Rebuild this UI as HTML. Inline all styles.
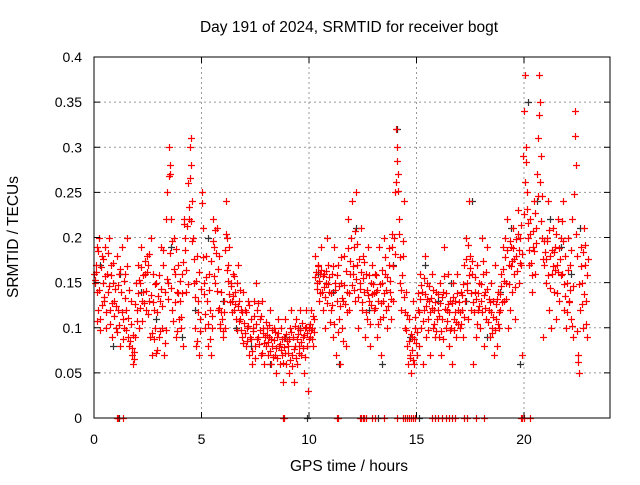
<!DOCTYPE html>
<html><head><meta charset="utf-8"><style>
body{margin:0;background:#fff}
svg text{font-family:"Liberation Sans",sans-serif;font-size:14px;fill:#000}
svg text.big{font-size:15.5px}
</style></head><body>
<svg id="chart" width="640" height="480" viewBox="0 0 640 480" xmlns="http://www.w3.org/2000/svg">
<rect width="640" height="480" fill="#fff"/>
<text class="big" x="349" y="32" text-anchor="middle">Day 191 of 2024, SRMTID for receiver bogt</text>
<text class="big" x="349" y="471" text-anchor="middle">GPS time / hours</text>
<text class="big" x="0" y="0" text-anchor="middle" transform="translate(18,237) rotate(-90)">SRMTID / TECUs</text>
<g id="grid"></g><g id="marks"></g><g id="axes"></g>
</svg>
<script>
const xTicks=[0,5,10,15,20];
const yTicks=[0,0.05,0.1,0.15,0.2,0.25,0.3,0.35,0.4];
const yTickLabels=["0","0.05","0.1","0.15","0.2","0.25","0.3","0.35","0.4"];
const blackPoints=[[0.3,.17],[0.9,.08],[1.2,.16],[2.2,.14],[2.9,.11],[3.6,.19],[4.1,.09],[4.7,.12],[5.3,.2],[6.0,.13],[6.6,.1],[7.3,.08],[8.2,.06],[8.9,.09],[9.6,.1],[10.4,.16],[11.1,.14],[11.4,.06],[12.2,.21],[12.8,.12],[13.4,.06],[13.9,.17],[14.1,.32],[14.7,.09],[15.4,.17],[16.0,.13],[16.6,.15],[17.3,.13],[17.6,.24],[18.3,.09],[18.9,.14],[19.4,.21],[19.8,.06],[20.2,.35],[20.6,.24],[21.2,.22],[21.7,.19],[22.2,.16],[22.6,.21],[1.15,0],[9.9,0],[13.2,0],[15.1,0]];
const redPoints=[[0.02,.16],[0.05,.15],[0.08,.17],[0.12,.14],[0.15,.19],[0.2,.12],[0.25,.2],[0.3,.11],[0.35,.18],[0.4,.15],[0.45,.13],[0.5,.19],[0.55,.1],[0.6,.16],[0.65,.14],[0.7,.2],[0.75,.12],[0.8,.17],[0.85,.09],[0.9,.15],[0.95,.13],
[1.0,.1],[1.05,.18],[1.1,.12],[1.15,.16],[1.2,.08],[1.25,.14],[1.3,.19],[1.35,.11],[1.4,.1],[1.45,.16],[1.5,.12],[1.55,.2],[1.6,.09],[1.65,.08],[1.7,.13],[1.75,.07],[1.8,.06],[1.85,.065],[1.9,.09],[1.95,.15],
[2.0,.12],[2.05,.17],[2.1,.1],[2.15,.15],[2.2,.19],[2.25,.13],[2.3,.14],[2.35,.16],[2.4,.12],[2.45,.18],[2.5,.17],[2.55,.13],[2.6,.09],[2.65,.2],[2.7,.07],[2.75,.16],[2.8,.12],[2.85,.1],[2.9,.15],[2.95,.075],
[3.0,.09],[3.05,.13],[3.1,.19],[3.15,.1],[3.2,.17],[3.25,.07],[3.3,.14],[3.35,.22],[3.4,.25],[3.45,.15],[3.5,.3],[3.52,.27],[3.55,.28],[3.6,.22],[3.65,.12],[3.7,.2],[3.75,.16],[3.8,.09],[3.85,.14],[3.9,.17],[3.95,.11],
[4.0,.13],[4.05,.1],[4.1,.16],[4.15,.08],[4.2,.22],[4.25,.2],[4.3,.14],[4.35,.26],[4.4,.22],[4.45,.3],[4.5,.31],[4.52,.28],[4.55,.24],[4.6,.2],[4.65,.15],[4.7,.1],[4.75,.08],[4.8,.18],[4.85,.13],[4.9,.07],[4.95,.11],
[5.0,.25],[5.05,.21],[5.1,.15],[5.15,.1],[5.2,.18],[5.25,.13],[5.3,.08],[5.35,.16],[5.4,.12],[5.45,.07],[5.5,.1],[5.55,.22],[5.6,.19],[5.65,.15],[5.7,.21],[5.75,.12],[5.8,.18],[5.85,.1],[5.9,.14],[5.95,.11],
[6.0,.09],[6.05,.13],[6.1,.1],[6.15,.24],[6.2,.2],[6.25,.17],[6.3,.19],[6.35,.15],[6.4,.13],[6.45,.16],[6.5,.12],[6.55,.14],[6.6,.11],[6.65,.15],[6.7,.17],[6.75,.13],[6.8,.11],[6.85,.12],[6.9,.09],[6.95,.14],
[7.0,.12],[7.05,.08],[7.1,.1],[7.15,.13],[7.2,.07],[7.25,.09],[7.3,.11],[7.35,.06],[7.4,.1],[7.45,.13],[7.5,.08],[7.55,.15],[7.6,.12],[7.65,.09],[7.7,.11],[7.75,.07],[7.8,.13],[7.85,.1],[7.9,.06],[7.95,.09],
[8.0,.08],[8.05,.1],[8.1,.07],[8.15,.09],[8.2,.12],[8.25,.06],[8.3,.08],[8.35,.1],[8.4,.07],[8.45,.05],[8.5,.09],[8.55,.11],[8.6,.08],[8.65,.06],[8.7,.1],[8.75,.07],[8.8,.04],[8.85,.09],[8.9,.11],[8.95,.06],
[9.0,.08],[9.05,.05],[9.1,.1],[9.15,.12],[9.2,.07],[9.25,.09],[9.3,.04],[9.35,.08],[9.4,.11],[9.45,.06],[9.5,.1],[9.55,.08],[9.6,.12],[9.65,.07],[9.7,.09],[9.75,.05],[9.8,.1],[9.85,.12],[9.9,.08],[9.95,.03],
[10.0,.1],[10.05,.09],[10.1,.12],[10.15,.1],[10.2,.08],[10.25,.11],[10.3,.18],[10.35,.15],[10.4,.17],[10.45,.13],[10.5,.16],[10.55,.19],[10.6,.14],[10.65,.12],[10.7,.16],[10.75,.1],[10.8,.15],[10.85,.2],[10.9,.17],[10.95,.14],
[11.0,.12],[11.05,.16],[11.1,.09],[11.15,.19],[11.2,.15],[11.25,.07],[11.3,.13],[11.35,.17],[11.4,.11],[11.45,.06],[11.5,.15],[11.55,.1],[11.6,.13],[11.65,.18],[11.7,.08],[11.75,.14],[11.8,.22],[11.85,.12],[11.9,.16],[11.95,.2],
[12.0,.24],[12.05,.16],[12.1,.19],[12.15,.13],[12.2,.25],[12.25,.17],[12.3,.1],[12.35,.15],[12.4,.21],[12.45,.12],[12.5,.18],[12.55,.14],[12.6,.09],[12.65,.16],[12.7,.11],[12.75,.19],[12.8,.13],[12.85,.08],[12.9,.15],[12.95,.17],
[13.0,.12],[13.05,.16],[13.1,.14],[13.15,.09],[13.2,.13],[13.25,.19],[13.3,.11],[13.35,.07],[13.4,.15],[13.45,.13],[13.5,.2],[13.55,.16],[13.6,.12],[13.65,.1],[13.7,.17],[13.75,.14],[13.8,.11],[13.85,.19],[13.9,.13],[13.95,.2],
[14.0,.25],[14.05,.32],[14.1,.3],[14.15,.27],[14.2,.22],[14.25,.15],[14.3,.12],[14.35,.18],[14.4,.24],[14.45,.1],[14.5,.14],[14.55,.08],[14.6,.06],[14.65,.11],[14.7,.07],[14.75,.05],[14.8,.09],[14.85,.13],[14.9,.06],[14.95,.1],
[15.0,.07],[15.05,.12],[15.1,.08],[15.15,.16],[15.2,.1],[15.25,.14],[15.3,.06],[15.35,.12],[15.4,.18],[15.45,.09],[15.5,.15],[15.55,.11],[15.6,.13],[15.65,.07],[15.7,.16],[15.75,.1],[15.8,.12],[15.85,.09],[15.9,.14],[15.95,.11],
[16.0,.12],[16.05,.09],[16.1,.15],[16.15,.07],[16.2,.11],[16.25,.14],[16.3,.19],[16.35,.1],[16.4,.12],[16.45,.16],[16.5,.08],[16.55,.13],[16.6,.1],[16.65,.06],[16.7,.15],[16.75,.11],[16.8,.13],[16.85,.09],[16.9,.16],[16.95,.12],
[17.0,.1],[17.05,.14],[17.1,.12],[17.15,.09],[17.2,.17],[17.25,.13],[17.3,.2],[17.35,.15],[17.4,.11],[17.45,.24],[17.5,.18],[17.55,.12],[17.6,.16],[17.65,.06],[17.7,.14],[17.75,.09],[17.8,.17],[17.85,.12],[17.9,.15],[17.95,.1],
[18.0,.13],[18.05,.2],[18.1,.16],[18.15,.08],[18.2,.14],[18.25,.11],[18.3,.19],[18.35,.12],[18.4,.09],[18.45,.15],[18.5,.1],[18.55,.13],[18.6,.07],[18.65,.17],[18.7,.11],[18.75,.08],[18.8,.14],[18.85,.1],[18.9,.12],[18.95,.16],
[19.0,.19],[19.05,.13],[19.1,.2],[19.15,.15],[19.2,.22],[19.25,.1],[19.3,.17],[19.35,.12],[19.4,.19],[19.45,.14],[19.5,.21],[19.55,.16],[19.6,.11],[19.65,.18],[19.7,.23],[19.75,.15],[19.8,.2],[19.85,.17],[19.9,.07],[19.95,.29],
[20.0,.34],[20.05,.38],[20.1,.3],[20.15,.25],[20.2,.2],[20.25,.17],[20.3,.22],[20.35,.14],[20.4,.19],[20.45,.24],[20.5,.16],[20.55,.21],[20.6,.27],[20.65,.31],[20.7,.38],[20.75,.35],[20.8,.29],[20.85,.2],[20.9,.09],[20.95,.17],
[21.0,.15],[21.05,.2],[21.1,.24],[21.15,.12],[21.2,.18],[21.25,.1],[21.3,.16],[21.35,.21],[21.4,.14],[21.45,.19],[21.5,.11],[21.55,.17],[21.6,.22],[21.65,.13],[21.7,.2],[21.75,.16],[21.8,.24],[21.85,.12],[21.9,.18],[21.95,.1],
[22.0,.15],[22.05,.2],[22.1,.13],[22.15,.17],[22.2,.11],[22.25,.22],[22.3,.09],[22.35,.34],[22.4,.28],[22.45,.18],[22.5,.07],[22.55,.05],[22.6,.12],[22.65,.19],[22.7,.15],[22.75,.1],[22.8,.21],[22.85,.17],[22.9,.13],[22.95,.09],
[1.05,0],[1.12,0],[1.35,0],[8.78,0],[8.85,0],[11.3,0],[11.36,0],[12.35,0],[12.42,0],[12.5,0],[12.58,0],[12.66,0],[12.95,0],[13.05,0],[13.5,0],[14.1,0],[14.35,0],[14.45,0],[14.55,0],[14.65,0],[14.75,0],[14.85,0],[14.95,0],[15.7,0],[15.85,0],[16.0,0],[16.2,0],[16.35,0],[16.5,0],[16.65,0],[16.8,0],[17.2,0],[17.35,0],[17.75,0],[18.15,0],[19.85,0],[19.92,0],[19.98,0],[20.3,0]];
const redPointsExtra=[[0.03,.153],[0.07,.162],[0.13,.108],[0.18,.185],[0.23,.142],[0.28,.098],[0.33,.167],[0.38,.125],[0.43,.176],[0.48,.134],[0.53,.157],[0.58,.118],[0.63,.183],[0.68,.146],[0.73,.104],[0.78,.158],[0.83,.127],[0.88,.172],[0.93,.113],[0.98,.143],
[1.03,.124],[1.08,.095],[1.13,.147],[1.18,.103],[1.23,.165],[1.28,.117],[1.33,.088],[1.38,.152],[1.43,.133],[1.48,.098],[1.53,.168],[1.58,.111],[1.63,.142],[1.68,.085],[1.73,.104],[1.78,.078],[1.83,.092],[1.88,.073],[1.93,.126],[1.98,.108],
[2.03,.138],[2.08,.153],[2.13,.122],[2.18,.167],[2.23,.108],[2.28,.158],[2.33,.127],[2.38,.174],[2.43,.141],[2.48,.162],[2.53,.115],[2.58,.182],[2.63,.136],[2.68,.094],[2.73,.128],[2.78,.087],[2.83,.148],[2.88,.072],[2.93,.118],[2.98,.135],
[3.03,.158],[3.08,.096],[3.13,.143],[3.18,.124],[3.23,.186],[3.28,.083],[3.33,.097],[3.38,.154],[3.43,.132],[3.48,.268],[3.53,.183],[3.58,.144],[3.63,.196],[3.68,.107],[3.73,.165],[3.78,.128],[3.83,.187],[3.88,.096],[3.93,.138],[3.98,.152],
[4.03,.112],[4.08,.138],[4.13,.173],[4.18,.215],[4.23,.186],[4.28,.164],[4.33,.213],[4.38,.148],[4.43,.234],[4.48,.266],[4.53,.218],[4.58,.196],[4.63,.176],[4.68,.134],[4.73,.152],[4.78,.085],[4.83,.117],[4.88,.162],[4.93,.096],[4.98,.143],
[5.03,.238],[5.08,.178],[5.13,.137],[5.18,.115],[5.23,.156],[5.28,.104],[5.33,.142],[5.38,.088],[5.43,.174],[5.48,.113],[5.53,.196],[5.58,.157],[5.63,.208],[5.68,.183],[5.73,.141],[5.78,.165],[5.83,.122],[5.88,.104],[5.93,.118],[5.98,.096],
[6.03,.118],[6.08,.186],[6.13,.204],[6.18,.164],[6.23,.152],[6.28,.137],[6.33,.128],[6.38,.146],[6.43,.118],[6.48,.135],[6.53,.157],[6.58,.126],[6.63,.098],[6.68,.124],[6.73,.108],[6.78,.142],[6.83,.097],[6.88,.118],[6.93,.083],[6.98,.105],
[7.03,.094],[7.08,.117],[7.13,.085],[7.18,.102],[7.23,.125],[7.28,.088],[7.33,.074],[7.38,.096],[7.43,.113],[7.48,.067],[7.53,.104],[7.58,.088],[7.63,.127],[7.68,.082],[7.73,.098],[7.78,.113],[7.83,.072],[7.88,.094],[7.93,.083],[7.98,.106],
[8.03,.092],[8.08,.084],[8.13,.103],[8.18,.074],[8.23,.088],[8.28,.097],[8.33,.068],[8.38,.086],[8.43,.095],[8.48,.078],[8.53,.066],[8.58,.094],[8.63,.082],[8.68,.075],[8.73,.088],[8.78,.061],[8.83,.079],[8.88,.072],[8.93,.093],[8.98,.085],
[9.03,.072],[9.08,.088],[9.13,.064],[9.18,.095],[9.23,.058],[9.28,.077],[9.33,.102],[9.38,.066],[9.43,.088],[9.48,.093],[9.53,.072],[9.58,.097],[9.63,.084],[9.68,.105],[9.73,.078],[9.78,.092],[9.83,.068],[9.88,.101],[9.93,.094],[9.98,.087],
[10.03,.104],[10.08,.097],[10.13,.088],[10.18,.113],[10.23,.095],[10.28,.156],[10.33,.162],[10.38,.143],[10.43,.168],[10.48,.152],[10.53,.138],[10.58,.164],[10.63,.157],[10.68,.145],[10.73,.134],[10.78,.163],[10.83,.127],[10.88,.148],[10.93,.156],[10.98,.106],
[11.03,.138],[11.08,.125],[11.13,.168],[11.18,.104],[11.23,.142],[11.28,.158],[11.33,.095],[11.38,.146],[11.43,.124],[11.48,.178],[11.53,.133],[11.58,.085],[11.63,.147],[11.68,.126],[11.73,.163],[11.78,.117],[11.83,.188],[11.88,.138],[11.93,.174],[11.98,.147],
[12.03,.168],[12.08,.142],[12.13,.207],[12.18,.154],[12.23,.193],[12.28,.134],[12.33,.176],[12.38,.143],[12.43,.162],[12.48,.128],[12.53,.155],[12.58,.173],[12.63,.118],[12.68,.142],[12.73,.136],[12.78,.158],[12.83,.104],[12.88,.125],[12.93,.137],[12.98,.148],
[13.03,.138],[13.08,.122],[13.13,.158],[13.18,.142],[13.23,.104],[13.28,.148],[13.33,.127],[13.38,.164],[13.43,.112],[13.48,.138],[13.53,.178],[13.58,.142],[13.63,.156],[13.68,.124],[13.73,.188],[13.78,.152],[13.83,.132],[13.88,.204],[13.93,.168],[13.98,.182],
[14.03,.262],[14.08,.285],[14.13,.252],[14.18,.204],[14.23,.178],[14.28,.142],[14.33,.158],[14.38,.196],[14.43,.134],[14.48,.118],[14.53,.097],[14.58,.114],[14.63,.085],[14.68,.066],[14.73,.093],[14.78,.075],[14.83,.064],[14.88,.087],[14.93,.112],[14.98,.083],
[15.03,.095],[15.08,.138],[15.13,.118],[15.18,.132],[15.23,.147],[15.28,.108],[15.33,.155],[15.38,.137],[15.43,.124],[15.48,.132],[15.53,.098],[15.58,.146],[15.63,.118],[15.68,.133],[15.73,.122],[15.78,.142],[15.83,.104],[15.88,.128],[15.93,.096],[15.98,.137],
[16.03,.113],[16.08,.127],[16.13,.096],[16.18,.134],[16.23,.088],[16.28,.157],[16.33,.121],[16.38,.138],[16.43,.107],[16.48,.126],[16.53,.118],[16.58,.098],[16.63,.127],[16.68,.134],[16.73,.097],[16.78,.118],[16.83,.106],[16.88,.138],[16.93,.104],[16.98,.129],
[17.03,.118],[17.08,.104],[17.13,.136],[17.18,.148],[17.23,.112],[17.28,.176],[17.33,.142],[17.38,.192],[17.43,.158],[17.48,.166],[17.53,.138],[17.58,.174],[17.63,.128],[17.68,.118],[17.73,.156],[17.78,.132],[17.83,.104],[17.88,.138],[17.93,.124],[17.98,.148],
[18.03,.118],[18.08,.174],[18.13,.136],[18.18,.122],[18.23,.162],[18.28,.143],[18.33,.106],[18.38,.132],[18.43,.128],[18.48,.118],[18.53,.094],[18.58,.112],[18.63,.098],[18.68,.126],[18.73,.132],[18.78,.104],[18.83,.118],[18.88,.137],[18.93,.146],[18.98,.128],
[19.03,.165],[19.08,.152],[19.13,.178],[19.18,.132],[19.23,.186],[19.28,.148],[19.33,.196],[19.38,.168],[19.43,.174],[19.48,.188],[19.53,.176],[19.58,.145],[19.63,.198],[19.68,.163],[19.73,.204],[19.78,.186],[19.83,.172],[19.88,.214],[19.93,.182],[19.98,.226],
[20.03,.262],[20.08,.284],[20.13,.232],[20.18,.216],[20.23,.186],[20.28,.204],[20.33,.172],[20.38,.158],[20.43,.207],[20.48,.185],[20.53,.227],[20.58,.194],[20.63,.246],[20.68,.336],[20.73,.262],[20.78,.218],[20.83,.246],[20.88,.176],[20.93,.196],[20.98,.184],
[21.03,.176],[21.08,.196],[21.13,.158],[21.18,.208],[21.23,.144],[21.28,.186],[21.33,.168],[21.38,.184],[21.43,.164],[21.48,.204],[21.53,.138],[21.58,.162],[21.63,.188],[21.68,.176],[21.73,.158],[21.78,.218],[21.83,.196],[21.88,.148],[21.93,.135],[21.98,.118],
[22.03,.164],[22.08,.128],[22.13,.142],[22.18,.186],[22.23,.102],[22.28,.146],[22.33,.248],[22.38,.312],[22.43,.204],[22.48,.096],[22.53,.062],[22.58,.148],[22.63,.168],[22.68,.126],[22.73,.184],[22.78,.137],[22.83,.192],[22.88,.104],[22.93,.158],[22.98,.176]];

const L=94,R=610,T=57,B=418,XMAX=24,YMAX=0.4;
function xs(t){return L+t/XMAX*(R-L);}
function ys(v){return B-v/YMAX*(B-T);}
const NS="http://www.w3.org/2000/svg";
function mk(tag,attrs,parent){const e=document.createElementNS(NS,tag);for(const k in attrs)e.setAttribute(k,attrs[k]);parent.appendChild(e);return e;}
const grid=document.getElementById('grid'),marks=document.getElementById('marks'),axes=document.getElementById('axes');
yTicks.forEach((v,i)=>{
  const y=ys(v);
  if(i>0&&i<yTicks.length-1){const g=mk('line',{x1:L,x2:R,y1:y,y2:y,stroke:'#999','stroke-dasharray':'2,3','stroke-width':1},grid);
  
  }
  mk('line',{x1:L,x2:L+6,y1:y,y2:y,stroke:'#000'},axes);
  mk('line',{x1:R,x2:R-6,y1:y,y2:y,stroke:'#000'},axes);
  const t=mk('text',{x:82,y:y+5,'text-anchor':'end'},axes);t.textContent=yTickLabels[i];
  
  
});
xTicks.forEach((v,i)=>{
  const x=xs(v);
  if(i>0){const g=mk('line',{x1:x,x2:x,y1:T,y2:B,stroke:'#999','stroke-dasharray':'2,3','stroke-width':1},grid);
  
  }
  mk('line',{x1:x,x2:x,y1:B,y2:B-6,stroke:'#000'},axes);
  mk('line',{x1:x,x2:x,y1:T,y2:T+6,stroke:'#000'},axes);
  const t=mk('text',{x:x,y:444,'text-anchor':'middle'},axes);t.textContent=String(v);
  
  
});
const frame=mk('rect',{x:L,y:T,width:R-L,height:B-T,fill:'none',stroke:'#000','stroke-width':1},axes);


function plus(p,color,name){
  const x=Math.round(xs(p[0]))+0.5,y=Math.round(ys(p[1]))+0.5;
  const e=mk('path',{d:`M${x-3.5},${y}H${x+3.5}M${x},${y-3.5}V${y+3.5}`,stroke:color,'stroke-width':1.2,fill:'none'},marks);
  
  
}
blackPoints.forEach(p=>plus(p,'#333','black-point'));
redPoints.forEach(p=>plus(p,'#f00','red-point'));
redPointsExtra.forEach(p=>plus(p,'#f00','red-point'));
</script>
</body></html>
